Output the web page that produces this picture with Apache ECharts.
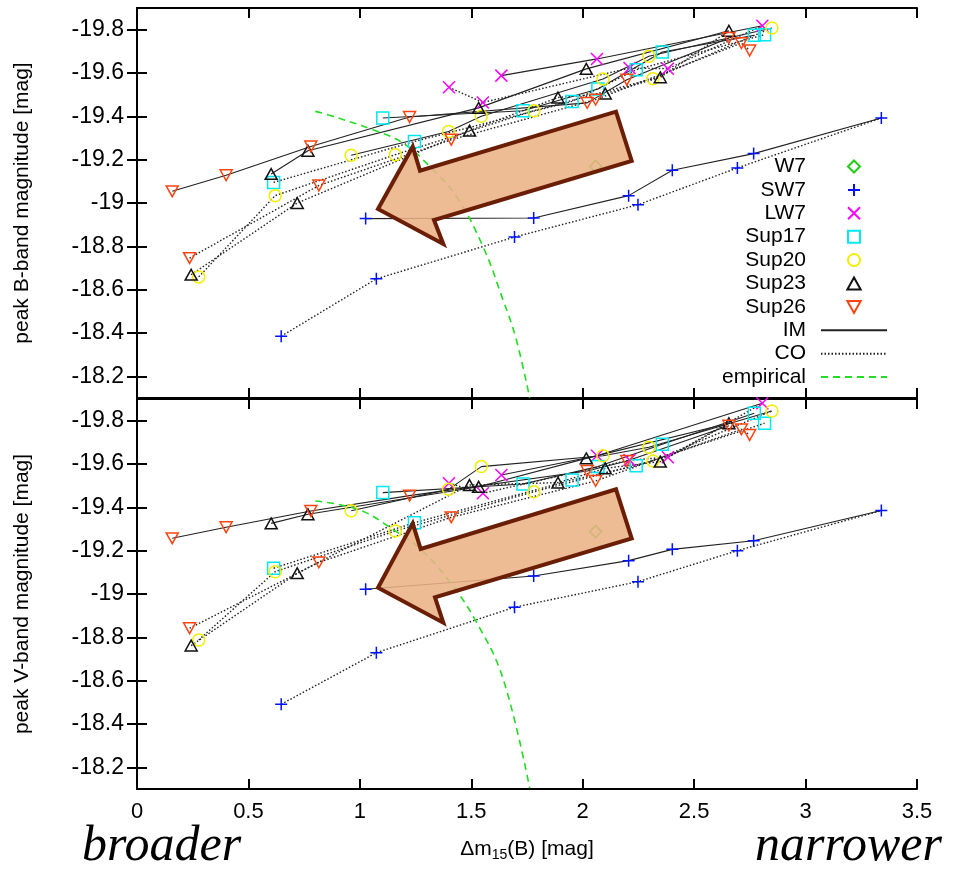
<!DOCTYPE html>
<html><head><meta charset="utf-8">
<script src="https://cdn.jsdelivr.net/npm/echarts@6/dist/echarts.min.js"></script>
<style>html,body{margin:0;padding:0;background:#fff}#c{width:959px;height:873px}</style>
</head><body><div id="c"></div><script>
// ---------------- DATA ----------------
const yTickValues = [-19.8, -19.6, -19.4, -19.2, -19, -18.8, -18.6, -18.4, -18.2];
const xMin = 0, xMax = 3.5, xStep = 0.5;
const yMin = -19.9, yMax = -18.1;

// W7
const W7_x = [2.058];
const W7_B = [-19.169];
const W7_V = [-19.288];
const W7_IM = [];
const W7_CO = [];

// SW7
const SW7_x = [0.647, 1.074, 1.026, 1.694, 1.780, 2.206, 2.248, 2.402, 2.694, 2.767, 3.340];
const SW7_B = [-18.385, -18.650, -18.928, -18.843, -18.931, -19.034, -18.992, -19.151, -19.162, -19.228, -19.392];
const SW7_V = [-18.491, -18.729, -19.022, -18.939, -19.083, -19.154, -19.057, -19.206, -19.200, -19.246, -19.385];
const SW7_IM = [2, 4, 5, 7, 9, 10];
const SW7_CO = [0, 1, 3, 6, 8, 10];

// LW7
const LW7_x = [1.400, 1.552, 1.635, 2.064, 2.210, 2.382, 2.806];
const LW7_B = [-19.534, -19.464, -19.588, -19.665, -19.623, -19.620, -19.818];
const LW7_V = [-19.511, -19.465, -19.549, -19.638, -19.618, -19.631, -19.880];
const LW7_IM = [2, 3, 6];
const LW7_CO = [0, 1, 4, 5, 6];

// Sup17
const Sup17_x = [0.613, 1.103, 1.245, 1.732, 1.952, 2.068, 2.240, 2.357, 2.770, 2.816];
const Sup17_B = [-19.095, -19.392, -19.284, -19.426, -19.469, -19.526, -19.615, -19.697, -19.774, -19.777];
const Sup17_V = [-19.119, -19.468, -19.329, -19.508, -19.526, -19.588, -19.592, -19.691, -19.834, -19.788];
const Sup17_IM = [1, 3, 5, 7, 8];
const Sup17_CO = [0, 2, 4, 6, 9];

// Sup20
const Sup20_x = [0.277, 0.620, 0.961, 1.159, 1.398, 1.545, 1.781, 2.091, 2.297, 2.315, 2.849];
const Sup20_B = [-18.659, -19.034, -19.220, -19.223, -19.330, -19.400, -19.426, -19.572, -19.677, -19.574, -19.808];
const Sup20_V = [-18.788, -19.103, -19.384, -19.291, -19.483, -19.588, -19.472, -19.638, -19.677, -19.614, -19.845];
const Sup20_IM = [2, 4, 5, 7, 8, 10];
const Sup20_CO = [0, 1, 3, 6, 9, 10];

// Sup23
const Sup23_x = [0.243, 0.602, 0.719, 0.767, 1.492, 1.533, 1.889, 2.016, 2.101, 2.348, 2.656];
const Sup23_B = [-18.669, -19.134, -19.000, -19.241, -19.334, -19.439, -19.487, -19.619, -19.505, -19.580, -19.795];
const Sup23_V = [-18.762, -19.326, -19.096, -19.368, -19.503, -19.495, -19.514, -19.626, -19.580, -19.611, -19.788];
const Sup23_IM = [1, 3, 5, 7, 10];
const Sup23_CO = [0, 2, 4, 6, 8, 9, 10];

// Sup26
const Sup26_x = [0.158, 0.236, 0.400, 0.780, 0.816, 1.223, 1.410, 2.020, 2.058, 2.198, 2.656, 2.712, 2.749];
const Sup26_B = [-19.054, -18.746, -19.128, -19.261, -19.081, -19.397, -19.292, -19.462, -19.477, -19.569, -19.762, -19.738, -19.704];
const Sup26_V = [-19.257, -18.842, -19.308, -19.383, -19.146, -19.454, -19.354, -19.568, -19.522, -19.614, -19.777, -19.760, -19.734];
const Sup26_IM = [0, 2, 3, 5, 7, 9, 10];
const Sup26_CO = [1, 4, 6, 8, 11, 12];

// empirical relation
const empB_x = [0.80, 0.864, 1.058, 1.193, 1.313, 1.433, 1.552, 1.642, 1.702, 1.762];
const empB_y = [-19.423, -19.405, -19.338, -19.277, -19.169, -19.030, -18.800, -18.554, -18.369, -18.100];
const empV_x = [0.80, 0.999, 1.163, 1.268, 1.403, 1.522, 1.642, 1.762];
const empV_y = [-19.429, -19.388, -19.288, -19.211, -19.057, -18.872, -18.611, -18.104];

const legendNames = ['W7', 'SW7', 'LW7', 'Sup17', 'Sup20', 'Sup23', 'Sup26', 'IM', 'CO', 'empirical'];
const lineLegendNames = ['IM', 'CO', 'empirical'];

// ---------------- STYLES ----------------
const FONT = 'Liberation Sans';
const markerStyle = {
  W7: { symbol: 'path://M5,0L10,5L5,10L0,5Z', color: '#22cc11', size: 12 },
  SW7: { symbol: 'path://M0,5L10,5M5,0L5,10', color: '#0011ff', size: 12 },
  LW7: { symbol: 'path://M0,0L10,10M10,0L0,10', color: '#ff00ff', size: 12 },
  Sup17: { symbol: 'path://M0,0L10,0L10,10L0,10Z', color: '#00e8f0', size: 12 },
  Sup20: { symbol: 'circle', color: '#f2ee00', size: 12 },
  Sup23: { symbol: 'path://M5,0L10,9L0,9Z', color: '#111111', size: 12 },
  Sup26: { symbol: 'path://M0,0L10,0L5,9Z', color: '#ff4411', size: 12 }
};
const models = [
  { name: 'W7', x: W7_x, B: W7_B, V: W7_V, IM: W7_IM, CO: W7_CO },
  { name: 'SW7', x: SW7_x, B: SW7_B, V: SW7_V, IM: SW7_IM, CO: SW7_CO },
  { name: 'LW7', x: LW7_x, B: LW7_B, V: LW7_V, IM: LW7_IM, CO: LW7_CO },
  { name: 'Sup17', x: Sup17_x, B: Sup17_B, V: Sup17_V, IM: Sup17_IM, CO: Sup17_CO },
  { name: 'Sup20', x: Sup20_x, B: Sup20_B, V: Sup20_V, IM: Sup20_IM, CO: Sup20_CO },
  { name: 'Sup23', x: Sup23_x, B: Sup23_B, V: Sup23_V, IM: Sup23_IM, CO: Sup23_CO },
  { name: 'Sup26', x: Sup26_x, B: Sup26_B, V: Sup26_V, IM: Sup26_IM, CO: Sup26_CO }
];

const series = [];
[['B', 0], ['V', 1]].forEach(([band, p]) => {
  const xi = p * 2, yi = p * 2;
  models.forEach(m => {
    if (m.IM.length) series.push({
      name: 'IM', type: 'line', xAxisIndex: xi, yAxisIndex: yi, symbol: 'none', z: 2,
      lineStyle: { color: '#222222', width: 1.1, type: 'solid' },
      data: m.IM.map(i => [m.x[i], m[band][i]])
    });
    if (m.CO.length) series.push({
      name: 'CO', type: 'line', xAxisIndex: xi, yAxisIndex: yi, symbol: 'none', z: 2,
      lineStyle: { color: '#222222', width: 1.4, type: [1.5, 2] },
      data: m.CO.map(i => [m.x[i], m[band][i]])
    });
  });
  const ex = band === 'B' ? empB_x : empV_x;
  const ey = band === 'B' ? empB_y : empV_y;
  series.push({
    name: 'empirical', type: 'line', xAxisIndex: xi, yAxisIndex: yi, symbol: 'none', smooth: 0.4, z: 3,
    lineStyle: { color: '#22dd22', width: 1.6, type: [7, 5] },
    data: ex.map((v, i) => [v, ey[i]])
  });
  models.forEach(m => {
    const st = markerStyle[m.name];
    series.push({
      name: m.name, type: 'scatter', xAxisIndex: xi, yAxisIndex: yi, z: 4,
      symbol: st.symbol, symbolSize: st.size, symbolKeepAspect: true,
      itemStyle: { color: 'rgba(0,0,0,0)', borderColor: st.color, borderWidth: 1.5, opacity: 1 },
      data: m.x.map((v, i) => [v, m[band][i]])
    });
  });
});

const gridH = 390, gridTop0 = 8, gridTop1 = 399, gridLeft = 137, gridW = 780;
const axisLineStyle = { show: true, lineStyle: { color: '#000', width: 2 } };
const tick = { show: true, inside: true, length: 10, lineStyle: { color: '#000', width: 2 } };

function xAx(grid, pos, labels) {
  return {
    type: 'value', gridIndex: grid, position: pos, min: xMin, max: xMax, interval: xStep,
    axisLine: axisLineStyle, axisTick: tick, splitLine: { show: false },
    axisLabel: { show: labels, margin: 12, color: '#000', fontFamily: FONT, fontSize: 22 },
    name: labels ? '{a|Δm}{s|15}{a|(B) [mag]}' : '',
    nameLocation: 'middle', nameGap: 48,
    nameTextStyle: {
      color: '#000', fontFamily: FONT, fontSize: 21,
      rich: { a: { fontFamily: FONT, fontSize: 21, color: '#000' },
              s: { fontFamily: FONT, fontSize: 14, color: '#000', padding: [11, 0, 0, 0] } }
    }
  };
}
function yAx(grid, pos, labels, name) {
  return {
    type: 'value', gridIndex: grid, position: pos, min: yMin, max: yMax, inverse: true,
    axisLine: axisLineStyle,
    axisTick: Object.assign({}, tick, { customValues: yTickValues }),
    splitLine: { show: false },
    axisLabel: { show: labels, customValues: yTickValues, margin: 13, color: '#000', fontFamily: FONT, fontSize: 23 },
    name: name || '', nameLocation: 'middle', nameRotate: 90, nameGap: 104,
    nameTextStyle: { color: '#000', fontFamily: FONT, fontSize: 21 }
  };
}

const arrowFill = 'rgba(234,178,133,0.87)';
const arrowStroke = '#6b1e06';
const arrowTop = [[378, 209], [412.7, 146.7], [420, 170.7], [616, 111.7], [631.7, 161], [434, 220], [443.3, 244]];
const arrowBot = [[378, 587.7], [412.7, 523.3], [420.7, 549], [616, 489.3], [631.7, 538.3], [435, 597.3], [443.3, 622.7]];

const legendData = legendNames.map(n => lineLegendNames.indexOf(n) >= 0
  ? { name: n, itemStyle: { color: 'rgba(0,0,0,0)', borderColor: 'rgba(0,0,0,0)', borderWidth: 0, opacity: 0 } }
  : { name: n });

const option = {
  animation: false,
  backgroundColor: '#fff',
  grid: [
    { left: gridLeft, top: gridTop0, width: gridW, height: gridH },
    { left: gridLeft, top: gridTop1, width: gridW, height: gridH }
  ],
  xAxis: [xAx(0, 'bottom', false), xAx(0, 'top', false), xAx(1, 'bottom', true), xAx(1, 'top', false)],
  yAxis: [yAx(0, 'left', true, 'peak B-band magnitude [mag]'), yAx(0, 'right', false),
          yAx(1, 'left', true, 'peak V-band magnitude [mag]'), yAx(1, 'right', false)],
  legend: {
    data: legendData, orient: 'vertical', align: 'right', right: 71, top: 155, padding: 0,
    itemWidth: 66, itemHeight: 12, itemGap: 0.4, selectedMode: false, symbolKeepAspect: true,
    textStyle: { fontFamily: FONT, fontSize: 21, color: '#000', lineHeight: 23, padding: [0, 10, 0, 0] }
  },
  graphic: [
    { type: 'polygon', z: 100, shape: { points: arrowTop }, style: { fill: arrowFill, stroke: arrowStroke, lineWidth: 4, lineJoin: 'miter' } },
    { type: 'polygon', z: 100, shape: { points: arrowBot }, style: { fill: arrowFill, stroke: arrowStroke, lineWidth: 4, lineJoin: 'miter' } },
    { type: 'text', z: 100, left: 82, top: 822, style: { text: 'broader', font: 'italic 50px "Liberation Serif"', fill: '#000' } },
    { type: 'text', z: 100, right: 17, top: 822, style: { text: 'narrower', font: 'italic 50px "Liberation Serif"', fill: '#000' } }
  ],
  series: series
};
const chart = echarts.init(document.getElementById('c'), null, { renderer: 'canvas' });
chart.setOption(option);
</script></body></html>
